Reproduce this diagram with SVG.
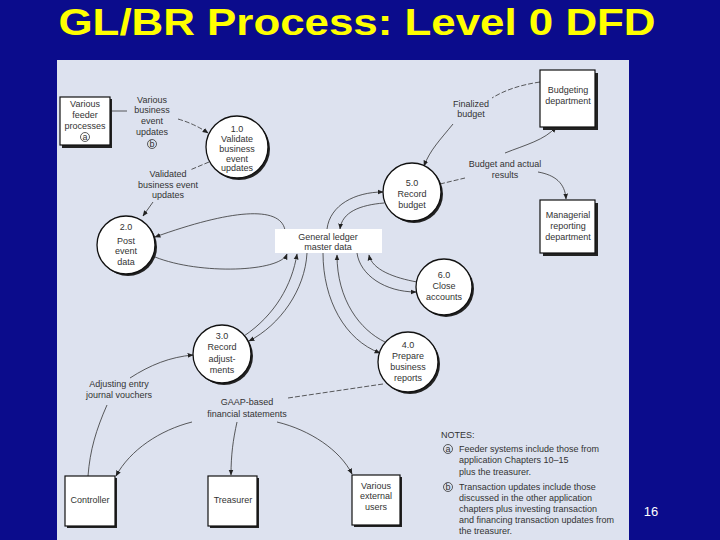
<svg xmlns="http://www.w3.org/2000/svg" width="720" height="540" viewBox="0 0 720 540">
<defs>
<marker id="ah" viewBox="0 0 10 10" refX="9" refY="5" markerWidth="6" markerHeight="6" markerUnits="userSpaceOnUse" orient="auto">
<path d="M0,1 L10,5 L0,9 z" fill="#222"/>
</marker>
</defs>
<style>
.t{font-family:"Liberation Sans",Arial,sans-serif;font-size:9px;fill:#333;text-anchor:middle}
.n{font-family:"Liberation Sans",Arial,sans-serif;font-size:9px;fill:#333}
.c{fill:none;stroke:#333;stroke-width:0.8}
.d{stroke-dasharray:5 2}
.a{marker-end:url(#ah)}
.box{fill:#fff;stroke:#111;stroke-width:1.2}
.sh{fill:#222}
.proc{fill:#fff;stroke:#111;stroke-width:1.3}
.ring{fill:none;stroke:#333;stroke-width:0.8}
</style>
<rect x="0" y="0" width="720" height="540" fill="#0b0c8c"/>
<text x="357" y="35" font-family="'Liberation Sans',Arial,sans-serif" font-weight="bold" font-size="37" fill="#ffff00" text-anchor="middle" textLength="597" lengthAdjust="spacingAndGlyphs">GL/BR Process: Level 0 DFD</text>
<rect x="57" y="60" width="572" height="480" fill="#dde2ef"/>
<text x="651" y="516" font-family="'Liberation Sans',Arial,sans-serif" font-size="13" fill="#fff" text-anchor="middle">16</text>

<g id="connectors">
<path class="c" d="M110,111 L127,111"/>
<path class="c d a" d="M178,119 Q195,124 208,133"/>
<path class="c d" d="M209,162 L190,170"/>
<path class="c a" d="M153,202 L143,216"/>
<path class="c a" d="M285,230 C280,205 230,210 155,237"/>
<path class="c a" d="M155,257 C200,275 280,272 287,254"/>
<path class="c a" d="M327,229 C330,205 355,192 383,192"/>
<path class="c a" d="M384,203 C360,205 342,212 340,229"/>
<path class="c d" d="M540,82 C520,85 505,90 492,98"/>
<path class="c a" d="M453,124 C440,140 430,150 424,166"/>
<path class="c d" d="M440,184 L465,178"/>
<path class="c a" d="M505,153 C525,145 545,140 556,127"/>
<path class="c a" d="M538,172 C555,175 565,183 566,199"/>
<path class="c a" d="M357,253 C360,275 385,292 416,292"/>
<path class="c a" d="M417,282 C395,278 372,270 369,255"/>
<path class="c a" d="M244,336 C275,315 292,285 297,254"/>
<path class="c a" d="M307,253 C305,290 280,325 249,341"/>
<path class="c a" d="M323,253 C323,300 345,340 380,353"/>
<path class="c a" d="M385,342 C360,330 337,300 337,255"/>
<path class="c" d="M88,476 C90,450 96,430 107,405"/>
<path class="c a" d="M130,378 C150,365 170,357 193,355"/>
<path class="c d" d="M383,384 L288,398"/>
<path class="c a" d="M192,422 C160,430 130,450 116,476"/>
<path class="c a" d="M237,422 C233,440 231,455 231,475"/>
<path class="c a" d="M277,422 C310,430 340,450 352,474"/>
</g>

<g id="feeder">
<rect class="sh" x="62" y="99" width="50" height="49"/>
<rect class="box" x="60" y="97" width="50" height="48"/>
<text class="t" x="85" y="107">Various</text>
<text class="t" x="85" y="118">feeder</text>
<text class="t" x="85" y="129">processes</text>
<circle class="ring" cx="85" cy="137" r="4.5"/>
<text class="t" x="85" y="140" font-size="8">a</text>
</g>

<g id="lbl-various">
<text class="t" x="152" y="103">Various</text>
<text class="t" x="152" y="113">business</text>
<text class="t" x="152" y="124">event</text>
<text class="t" x="152" y="135">updates</text>
<circle class="ring" cx="152" cy="144" r="4.5"/>
<text class="t" x="152" y="147" font-size="8">b</text>
</g>

<g id="p1">
<circle class="sh" cx="239" cy="149" r="31"/>
<circle class="proc" cx="237" cy="147" r="31"/>
<text class="t" x="237" y="132" font-size="8.5">1.0</text>
<text class="t" x="237" y="142" font-size="8.5">Validate</text>
<text class="t" x="237" y="152" font-size="8.5">business</text>
<text class="t" x="237" y="162" font-size="8.5">event</text>
<text class="t" x="237" y="171" font-size="8.5">updates</text>
</g>

<g id="lbl-validated">
<text class="t" x="168" y="177">Validated</text>
<text class="t" x="168" y="188">business event</text>
<text class="t" x="168" y="198">updates</text>
</g>

<g id="p2">
<circle class="sh" cx="128" cy="247" r="29"/>
<circle class="proc" cx="126" cy="245" r="29"/>
<text class="t" x="126" y="230">2.0</text>
<text class="t" x="126" y="244">Post</text>
<text class="t" x="126" y="254">event</text>
<text class="t" x="126" y="265">data</text>
</g>

<g id="gl">
<rect x="275" y="229" width="107" height="24" fill="#fff"/>
<text class="t" x="328" y="240">General ledger</text>
<text class="t" x="328" y="250">master data</text>
</g>

<g id="budgeting">
<rect class="sh" x="543" y="73" width="55" height="57"/>
<rect class="box" x="540" y="70" width="55" height="57"/>
<text class="t" x="568" y="93">Budgeting</text>
<text class="t" x="568" y="104">department</text>
</g>

<g id="lbl-finalized">
<text class="t" x="471" y="107">Finalized</text>
<text class="t" x="471" y="117">budget</text>
</g>

<g id="p5">
<circle class="sh" cx="414" cy="194" r="29"/>
<circle class="proc" cx="412" cy="192" r="29"/>
<text class="t" x="412" y="186">5.0</text>
<text class="t" x="412" y="197">Record</text>
<text class="t" x="412" y="208">budget</text>
</g>

<g id="lbl-budget-actual">
<text class="t" x="505" y="167">Budget and actual</text>
<text class="t" x="505" y="178">results</text>
</g>

<g id="managerial">
<rect class="sh" x="543" y="203" width="55" height="53"/>
<rect class="box" x="540" y="200" width="55" height="53"/>
<text class="t" x="568" y="218">Managerial</text>
<text class="t" x="568" y="229">reporting</text>
<text class="t" x="568" y="240">department</text>
</g>

<g id="p6">
<circle class="sh" cx="446" cy="289" r="28"/>
<circle class="proc" cx="444" cy="287" r="28"/>
<text class="t" x="444" y="278">6.0</text>
<text class="t" x="444" y="289">Close</text>
<text class="t" x="444" y="300">accounts</text>
</g>

<g id="p3">
<circle class="sh" cx="224" cy="356" r="29"/>
<circle class="proc" cx="222" cy="354" r="29"/>
<text class="t" x="222" y="339">3.0</text>
<text class="t" x="222" y="350">Record</text>
<text class="t" x="222" y="362">adjust-</text>
<text class="t" x="222" y="373">ments</text>
</g>

<g id="p4">
<circle class="sh" cx="410" cy="364" r="30"/>
<circle class="proc" cx="408" cy="362" r="30"/>
<text class="t" x="408" y="348">4.0</text>
<text class="t" x="408" y="359">Prepare</text>
<text class="t" x="408" y="370">business</text>
<text class="t" x="408" y="381">reports</text>
</g>

<g id="lbl-adjusting">
<text class="t" x="119" y="387">Adjusting entry</text>
<text class="t" x="119" y="398">journal vouchers</text>
</g>

<g id="lbl-gaap">
<text class="t" x="247" y="405">GAAP-based</text>
<text class="t" x="247" y="417">financial statements</text>
</g>

<g id="controller">
<rect class="sh" x="67" y="478" width="50" height="50"/>
<rect class="box" x="65" y="476" width="50" height="50"/>
<text class="t" x="90" y="503">Controller</text>
</g>

<g id="treasurer">
<rect class="sh" x="210" y="478" width="49" height="50"/>
<rect class="box" x="208" y="476" width="49" height="50"/>
<text class="t" x="233" y="503">Treasurer</text>
</g>

<g id="external">
<rect class="sh" x="354" y="477" width="48" height="50"/>
<rect class="box" x="352" y="475" width="48" height="50"/>
<text class="t" x="376" y="489">Various</text>
<text class="t" x="376" y="499">external</text>
<text class="t" x="376" y="510">users</text>
</g>

<g id="notes">
<text class="n" x="441" y="438">NOTES:</text>
<circle class="ring" cx="448" cy="449" r="4.5"/>
<text class="t" x="448" y="452" font-size="8">a</text>
<text class="n" x="459" y="452">Feeder systems include those from</text>
<text class="n" x="459" y="463">application Chapters 10–15</text>
<text class="n" x="459" y="475">plus the treasurer.</text>
<circle class="ring" cx="448" cy="487" r="4.5"/>
<text class="t" x="448" y="490" font-size="8">b</text>
<text class="n" x="459" y="490">Transaction updates include those</text>
<text class="n" x="459" y="501">discussed in the other application</text>
<text class="n" x="459" y="512">chapters plus investing transaction</text>
<text class="n" x="459" y="523">and financing transaction updates from</text>
<text class="n" x="459" y="534">the treasurer.</text>
</g>
</svg>
